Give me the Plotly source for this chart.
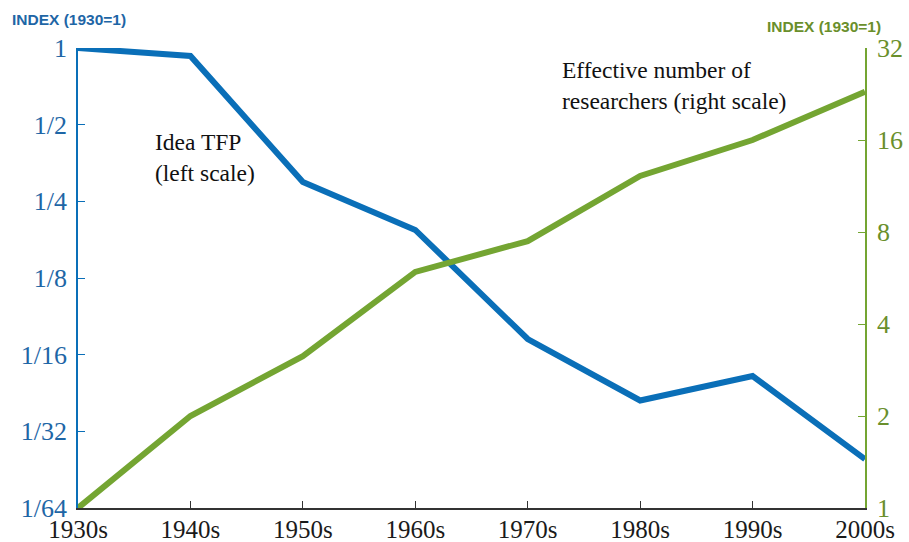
import math
import plotly.graph_objects as go

decades = ["1930s", "1940s", "1950s", "1960s", "1970s", "1980s", "1990s", "2000s"]
idea_tfp = [1.0, 0.93, 0.298, 0.193, 0.072, 0.0413, 0.0515, 0.0243]
researchers = [1.0, 2.0, 3.14, 5.92, 7.47, 12.2, 16.0, 23.0]

left_ticks = [1 / 64, 1 / 32, 1 / 16, 1 / 8, 1 / 4, 1 / 2, 1]
left_labels = ["1/64", "1/32", "1/16", "1/8", "1/4", "1/2", "1"]
right_ticks = [1, 2, 4, 8, 16, 32]
right_labels = ["1", "2", "4", "8", "16", "32"]

BLUE = "#0a6fb8"
GREEN = "#74a532"
BLUE_TXT = "#1e66a6"
GREEN_TXT = "#6a8f2c"
SERIF = "Liberation Serif"

# plot area on screen: x 78..865, y 48..508
PW, PH = 787, 460

fig = go.Figure()
fig.add_trace(go.Scatter(x=decades, y=idea_tfp, mode="lines", name="Idea TFP",
                         line=dict(color=BLUE, width=6), yaxis="y"))
fig.add_trace(go.Scatter(x=decades, y=researchers, mode="lines", name="Researchers",
                         line=dict(color=GREEN, width=6), yaxis="y2"))

fig.update_layout(
    width=909, height=542,
    margin=dict(l=78, r=44, t=48, b=34, autoexpand=False),
    paper_bgcolor="white", plot_bgcolor="white",
    showlegend=False,
    xaxis=dict(type="category", range=[0, 7], showgrid=False, zeroline=False,
               automargin=False,
               showline=True, linecolor="#333333", linewidth=1.5,
               ticks="inside", ticklen=7, tickcolor="#333333", ticklabelstandoff=-2,
               tickfont=dict(family=SERIF, size=25, color="#1a1a1a")),
    yaxis=dict(type="log", range=[math.log10(1 / 64), 0], showgrid=False, zeroline=False,
               automargin=False,
               showline=True, linecolor=BLUE, linewidth=1.5,
               tickvals=left_ticks, ticktext=left_labels,
               ticks="inside", ticklen=7, tickcolor=BLUE, ticklabelstandoff=4,
               tickfont=dict(family=SERIF, size=26, color=BLUE_TXT)),
    yaxis2=dict(type="log", range=[0, math.log10(32)], overlaying="y", side="right",
                showgrid=False, zeroline=False, automargin=False,
                showline=True, linecolor=GREEN, linewidth=1.5,
                tickvals=right_ticks, ticktext=right_labels,
                ticks="inside", ticklen=7, tickcolor=GREEN, ticklabelstandoff=5,
                tickfont=dict(family=SERIF, size=26, color=GREEN_TXT)),
    annotations=[
        dict(text="<b>INDEX (1930=1)</b>", xref="paper", yref="paper",
             x=(10 - 78) / PW, y=1 + 29 / PH, xanchor="left", yanchor="middle",
             showarrow=False, font=dict(family="Liberation Sans", size=15.5, color=BLUE_TXT)),
        dict(text="<b>INDEX (1930=1)</b>", xref="paper", yref="paper",
             x=(883 - 78) / PW, y=1 + 21 / PH, xanchor="right", yanchor="middle",
             showarrow=False, font=dict(family="Liberation Sans", size=15.5, color=GREEN_TXT)),
        dict(text="Idea TFP<br>(left scale)", xref="paper", yref="paper",
             x=(153 - 78) / PW, y=1 - (157 - 48) / PH, xanchor="left", yanchor="middle", align="left",
             showarrow=False, font=dict(family=SERIF, size=23.5, color="#111111")),
        dict(text="Effective number of<br>researchers (right scale)", xref="paper", yref="paper",
             x=(560 - 78) / PW, y=1 - (86 - 48) / PH, xanchor="left", yanchor="middle", align="left",
             showarrow=False, font=dict(family=SERIF, size=23.5, color="#111111")),
    ],
)

# drop the default page margin so the figure sits at the window's corner
fig.write_html("out.html", config={"displayModeBar": False},
               post_script="document.body.style.margin='0';")
